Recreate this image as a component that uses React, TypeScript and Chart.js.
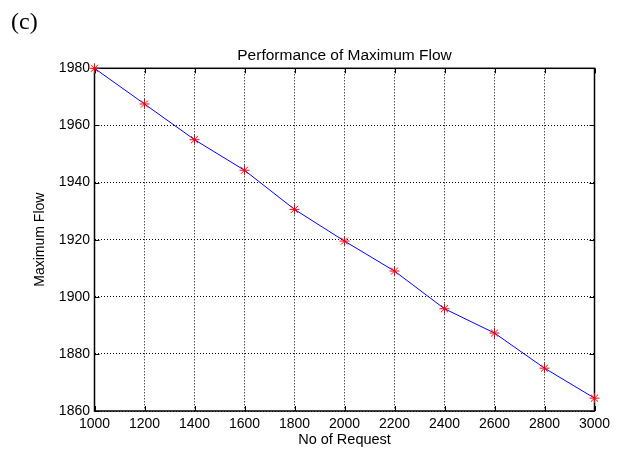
import React, { useEffect, useRef } from "react";
import { Chart, registerables } from "chart.js";

Chart.register(...registerables);

const requests = [1000, 1200, 1400, 1600, 1800, 2000, 2200, 2400, 2600, 2800, 3000];
const maxFlow = [1980, 1967.5, 1955, 1944.3, 1930.6, 1919.5, 1909, 1895.8, 1887.3, 1875, 1864.5];
const xRange = [1000, 3000];
const yRange = [1860, 1980];
const titleText = "Performance of Maximum Flow";
const xLabel = "No of Request";
const yLabel = "Maximum Flow";
const panelLabel = "(c)";

const FONT = "'Liberation Sans', Arial, Helvetica, sans-serif";

const boxPlugin = {
  id: "matlabBox",
  beforeDatasetsDraw(chart: any) {
    const { ctx, chartArea } = chart;
    const { left, right, top, bottom } = chartArea;
    ctx.save();
    ctx.strokeStyle = "#000";
    ctx.lineWidth = 1;
    ctx.setLineDash([]);
    const tl = 5;
    const xs = chart.scales.x;
    const ys = chart.scales.y;
    ctx.beginPath();
    xs.ticks.forEach((t: any) => {
      const px = Math.round(xs.getPixelForValue(t.value)) + 0.5;
      ctx.moveTo(px, bottom);
      ctx.lineTo(px, bottom - tl);
      ctx.moveTo(px, top);
      ctx.lineTo(px, top + tl);
    });
    ys.ticks.forEach((t: any) => {
      const py = Math.round(ys.getPixelForValue(t.value)) + 0.5;
      ctx.moveTo(left, py);
      ctx.lineTo(left + tl, py);
      ctx.moveTo(right, py);
      ctx.lineTo(right - tl, py);
    });
    ctx.stroke();
    ctx.lineWidth = 1.5;
    ctx.strokeRect(left, top, right - left, bottom - top);
    ctx.restore();
  },
};

export default function App() {
  const canvasRef = useRef<HTMLCanvasElement | null>(null);

  useEffect(() => {
    const canvas = canvasRef.current;
    if (!canvas) return;
    const chart = new Chart(canvas, {
      type: "line",
      data: {
        datasets: [
          {
            data: requests.map((x, i) => ({ x, y: maxFlow[i] })),
            borderColor: "#0000ff",
            borderWidth: 1,
            pointStyle: "star",
            pointRadius: 5,
            pointBorderColor: "#ff0000",
            pointBackgroundColor: "#ff0000",
            pointBorderWidth: 1,
            tension: 0,
            clip: false as any,
          },
        ],
      },
      options: {
        responsive: false,
        animation: false,
        devicePixelRatio: 1,
        layout: { padding: { top: 0, left: 0, right: 26.5, bottom: 0 } },
        plugins: {
          legend: { display: false },
          tooltip: { enabled: false },
          title: {
            display: true,
            text: titleText,
            color: "#000",
            fullSize: false,
            font: { family: FONT, size: 15.5, weight: "normal" },
            padding: { top: 46.2, bottom: 3.5 },
          },
        },
        scales: {
          x: {
            type: "linear",
            min: xRange[0],
            max: xRange[1],
            afterFit: (s: any) => {
              s.height = 41;
            },
            ticks: {
              stepSize: 200,
              autoSkip: false,
              maxRotation: 0,
              padding: 5,
              color: "#000",
              font: { family: FONT, size: 14 },
              callback: (v: any) => String(v),
            },
            grid: { color: "#000", lineWidth: 1, drawTicks: false },
            border: { display: false, dash: [1, 2] },
            title: {
              display: true,
              text: xLabel,
              color: "#000",
              font: { family: FONT, size: 14.5 },
              padding: { top: 0, bottom: 3 },
            },
          },
          y: {
            type: "linear",
            min: yRange[0],
            max: yRange[1],
            afterFit: (s: any) => {
              s.width = 94.5;
            },
            ticks: {
              stepSize: 20,
              autoSkip: false,
              padding: 4.5,
              color: "#000",
              font: { family: FONT, size: 14 },
              callback: (v: any) => String(v),
            },
            grid: { color: "#000", lineWidth: 1, drawTicks: false },
            border: { display: false, dash: [1, 2] },
            title: {
              display: true,
              text: yLabel,
              color: "#000",
              font: { family: FONT, size: 14 },
              padding: { top: 32, bottom: 0 },
            },
          },
        },
      },
      plugins: [boxPlugin],
    });
    return () => chart.destroy();
  }, []);

  return (
    <div style={{ position: "absolute", left: 0, top: 0, width: 621, height: 452, background: "#fff" }}>
      <canvas ref={canvasRef} width={621} height={452} style={{ display: "block" }} />
      <div
        style={{
          position: "absolute",
          left: 11,
          top: 8,
          fontFamily: "'Liberation Serif', 'Times New Roman', serif",
          fontSize: 24,
          color: "#000",
          lineHeight: "normal",
        }}
      >
        {panelLabel}
      </div>
    </div>
  );
}
